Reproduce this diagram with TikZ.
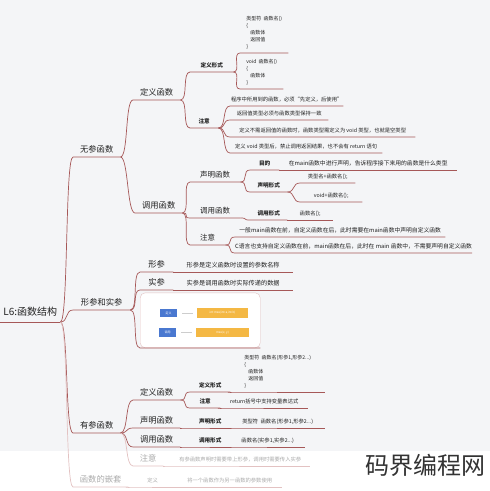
\documentclass[tikz,border=0pt]{standalone}
\usepackage{fontspec}
\newfontfamily\cjk{Noto Sans CJK SC}
\definecolor{bgc}{HTML}{F4F5F7}
\definecolor{lnc}{HTML}{A65858}
\definecolor{txc}{HTML}{222222}
\definecolor{fdc}{HTML}{ABABAB}
\definecolor{fdl}{HTML}{E3C2C2}
\definecolor{bluebox}{HTML}{4A78D0}
\definecolor{orangebox}{HTML}{F4B844}
\definecolor{wmc}{HTML}{333333}
\tikzset{
  item/.style={anchor=south west, inner xsep=0pt, inner ysep=4.5pt, text depth=0pt, text=txc},
  rootitem/.style={item, inner ysep=6.5pt, font=\cjk\fontsize{10}{12}\selectfont},
  big/.style={item, font=\cjk\fontsize{8.3}{10}\selectfont},
  mid/.style={item, font=\cjk\fontsize{7.5}{9}\selectfont},
  tag/.style={item, font=\cjk\bfseries\fontsize{5.6}{7}\selectfont},
  note/.style={item, font=\cjk\fontsize{5.3}{7}\selectfont},
  notel/.style={item, font=\cjk\fontsize{5.8}{7}\selectfont},
  desc/.style={item, font=\cjk\fontsize{6.2}{8}\selectfont},
  code/.style={item, inner ysep=4pt, align=left, font=\cjk\fontsize{5}{7}\selectfont},
  faded/.style={text=fdc},
  pill/.style={inner sep=0pt, text=white, font=\cjk\fontsize{3}{3}\selectfont},
  br/.style={out=0, in=180, distance=8pt},
}
\begin{document}
\begin{tikzpicture}[x=1pt, y=-1pt]
  \useasboundingbox (0,0) rectangle (490,491);
  \fill[bgc] (0,0) rectangle (490,451);
  \fill[white] (0,451) rectangle (490,491);

  % root and first level
  \node[rootitem, minimum width=60pt] (root) at (0,322) {L6:函数结构};
  \node[big, minimum width=47pt] (wc) at (73,157) {无参函数};
  \node[big, minimum width=57pt] (xs) at (73,310) {形参和实参};
  \node[big, minimum width=47pt] (yc) at (73,433) {有参函数};
  \node[big, faded, minimum width=55pt] (qt) at (73,487) {函数的嵌套};

  % 无参函数
  \node[big, minimum width=47pt] (wcdy) at (133,100) {定义函数};
  \node[big, minimum width=47pt] (wcdd) at (135,213) {调用函数};
  \node[tag, minimum width=43pt] (wcdyxs) at (190,72) {定义形式};
  \node[tag, minimum width=28pt] (wcdyzy) at (190,128) {注意};
  \node[code, minimum width=48pt] (code1) at (240,53)
    {类型符 \ 函数名()\\\{\\\hspace*{4pt}函数体\\\hspace*{4pt}返回值\\\}};
  \node[code, minimum width=43pt] (code2) at (240,89)
    {void \ 函数名()\\\{\\\hspace*{4pt}函数体\\\}};
  \node[note, minimum width=113pt] (n1) at (230,106) {程序中所用到的函数，必须“先定义，后使用”};
  \node[note, minimum width=98pt] (n2) at (230,120) {返回值类型必须与函数类型保持一致};
  \node[note, minimum width=185pt] (n3) at (230,137) {定义不需返回值的函数时，函数类型需定义为 void 类型，也就是空类型};
  \node[note, minimum width=152pt] (n4) at (230,153) {定义 void 类型后，禁止调用返回结果，也不会有 return 语句};

  \node[mid, minimum width=50pt] (wcsm) at (190,182) {声明函数};
  \node[mid, minimum width=50pt] (wcdd2) at (190,218) {调用函数};
  \node[mid, minimum width=35pt] (wczy) at (190,245) {注意};
  \node[tag, minimum width=29pt] (md) at (250,170) {目的};
  \node[notel, minimum width=178pt] (mdtx) at (279,170) {在main函数中进行声明，告诉程序接下来用的函数是什么类型};
  \node[tag, minimum width=37pt] (smxs) at (250,192) {声明形式};
  \node[note, minimum width=55pt] (smf1) at (300,183) {类型名+函数名();};
  \node[note, minimum width=62pt] (smf2) at (300,202) {void+函数名();};
  \node[tag, minimum width=37pt] (ddxs) at (250,220) {调用形式};
  \node[note, minimum width=46pt] (ddf) at (287,220) {函数名();};
  \node[notel, minimum width=210pt] (zyn1) at (235,237) {一般main函数在前，自定义函数在后，此时需要在main函数中声明自定义函数};
  \node[notel, minimum width=235pt] (zyn2) at (235,253) {C语言也支持自定义函数在前，main函数在后，此时在 main 函数中，不需要声明自定义函数};

  % 形参和实参
  \node[big, minimum width=33pt] (xsxc) at (140,272) {形参};
  \node[desc, minimum width=120pt] (xsxct) at (173,272) {形参是定义函数时设置的参数名称};
  \node[big, minimum width=33pt] (xssc) at (140,290) {实参};
  \node[desc, minimum width=120pt] (xssct) at (173,290) {实参是调用函数时实际传递的数据};
  \node[item, inner sep=0pt, minimum width=120pt, minimum height=55pt, rounded corners=5pt,
        draw=fdl, fill=white] (img) at (140,348) {};
  \node[pill, fill=bluebox, minimum width=17pt, minimum height=8pt] (pb1) at (168.5,313) {定义};
  \node[pill, fill=orangebox, minimum width=51pt, minimum height=10pt] (po1) at (222.5,313) {int max(int a,int b)};
  \node[pill, fill=bluebox, minimum width=17pt, minimum height=9pt] (pb2) at (167.5,332.5) {调用};
  \node[pill, fill=orangebox, minimum width=53pt, minimum height=9pt] (po2) at (222.5,332.5) {max(x, y)};
  \draw[fdc!60, shorten <=5pt, shorten >=4pt] (pb1) -- (po1);
  \draw[fdc!60, shorten <=5pt, shorten >=4pt] (pb2) -- (po2);

  % 有参函数
  \node[big, minimum width=47pt] (ycdy) at (133,400) {定义函数};
  \node[big, minimum width=47pt] (ycsm) at (133,428) {声明函数};
  \node[big, minimum width=47pt] (ycdd) at (133,447) {调用函数};
  \node[big, faded, minimum width=30pt] (yczy) at (133,466) {注意};
  \node[tag, minimum width=40pt] (ycdyxs) at (190,392) {定义形式};
  \node[code, minimum width=95pt] (code3) at (230,392)
    {类型符 \ 函数名(形参1,形参2...)\\\{\\\hspace*{4pt}函数体\\\hspace*{4pt}返回值\\\}};
  \node[tag, minimum width=30pt] (ycdyzy) at (190,408) {注意};
  \node[note, minimum width=88pt] (ycdyzyt) at (220,408) {return括号中支持变量表达式};
  \node[tag, minimum width=40pt] (ycsmxs) at (190,428) {声明形式};
  \node[note, minimum width=95pt] (ycsmf) at (230,428) {类型符 \ 函数名(形参1,形参2...)};
  \node[tag, minimum width=40pt] (ycddxs) at (190,447) {调用形式};
  \node[note, minimum width=75pt] (ycddf) at (230,447) {函数名(实参1,实参2...)};
  \node[note, faded, minimum width=140pt] (yczyt) at (170,466) {有参函数声明时需要带上形参，调用时需要传入实参};

  % 函数的嵌套
  \node[note, faded, minimum width=49pt] (qtdy) at (128,487) {定义};
  \node[note, faded, minimum width=105pt] (qtdyt) at (177,487) {将一个函数作为另一函数的参数使用};

  \node[font=\cjk\fontsize{24}{26}\selectfont, text=wmc] (wm) at (425,465) {码界编程网};

  \begin{scope}[draw=lnc, line width=0.7pt]
    \draw (root.south west) -- (root.south east);
    \draw (root.south east) to[br] (wc.south west) -- (wc.south east);
    \draw (root.south east) to[br] (xs.south west) -- (xs.south east);
    \draw (root.south east) to[br] (yc.south west) -- (yc.south east);
    \draw (wc.south east) to[br] (wcdy.south west) -- (wcdy.south east);
    \draw (wc.south east) to[br] (wcdd.south west) -- (wcdd.south east);
    \draw (wcdy.south east) to[br] (wcdyxs.south west) -- (wcdyxs.south east);
    \draw (wcdy.south east) to[br] (wcdyzy.south west) -- (wcdyzy.south east);
    \draw (wcdyxs.south east) to[br] (code1.south west) -- (code1.south east);
    \draw (wcdyxs.south east) to[br] (code2.south west) -- (code2.south east);
    \draw (wcdyzy.south east) to[br] (n1.south west) -- (n1.south east);
    \draw (wcdyzy.south east) to[br] (n2.south west) -- (n2.south east);
    \draw (wcdyzy.south east) to[br] (n3.south west) -- (n3.south east);
    \draw (wcdyzy.south east) to[br] (n4.south west) -- (n4.south east);
    \draw (wcdd.south east) to[br] (wcsm.south west) -- (wcsm.south east);
    \draw (wcdd.south east) to[br] (wcdd2.south west) -- (wcdd2.south east);
    \draw (wcdd.south east) to[br] (wczy.south west) -- (wczy.south east);
    \draw (wcsm.south east) to[br] (md.south west) -- (md.south east);
    \draw (wcsm.south east) to[br] (smxs.south west) -- (smxs.south east);
    \draw (md.south east) -- (mdtx.south east);
    \draw (smxs.south east) to[br] (smf1.south west) -- (smf1.south east);
    \draw (smxs.south east) to[br] (smf2.south west) -- (smf2.south east);
    \draw (wcdd2.south east) to[br] (ddxs.south west) -- (ddxs.south east);
    \draw (ddxs.south east) -- (ddf.south east);
    \draw (wczy.south east) to[br] (zyn1.south west) -- (zyn1.south east);
    \draw (wczy.south east) to[br] (zyn2.south west) -- (zyn2.south east);
    \draw (xs.south east) to[br] (xsxc.south west) -- (xsxc.south east);
    \draw (xs.south east) to[br] (xssc.south west) -- (xssc.south east);
    \draw (xs.south east) to[br] (img.south west) -- (img.south east);
    \draw (xsxc.south east) -- (xsxct.south east);
    \draw (xssc.south east) -- (xssct.south east);
    \draw (yc.south east) to[br] (ycdy.south west) -- (ycdy.south east);
    \draw (yc.south east) to[br] (ycsm.south west) -- (ycsm.south east);
    \draw (yc.south east) to[br] (ycdd.south west) -- (ycdd.south east);
    \draw (ycdy.south east) to[br] (ycdyxs.south west) -- (ycdyxs.south east);
    \draw (ycdy.south east) to[br] (ycdyzy.south west) -- (ycdyzy.south east);
    \draw (ycdyxs.south east) to[br] (code3.south west) -- (code3.south east);
    \draw (ycdyzy.south east) to[br] (ycdyzyt.south west) -- (ycdyzyt.south east);
    \draw (ycsm.south east) to[br] (ycsmxs.south west) -- (ycsmxs.south east);
    \draw (ycsmxs.south east) to[br] (ycsmf.south west) -- (ycsmf.south east);
    \draw (ycdd.south east) to[br] (ycddxs.south west) -- (ycddxs.south east);
    \draw (ycddxs.south east) to[br] (ycddf.south west) -- (ycddf.south east);
  \end{scope}
  \begin{scope}[draw=fdl, line width=0.7pt]
    \draw (root.south east) to[br] (qt.south west) -- (qt.south east);
    \draw (yc.south east) to[br] (yczy.south west) -- (yczy.south east);
    \draw (yczy.south east) to[br] (yczyt.south west) -- (yczyt.south east);
    \draw (qt.south east) to[br] (qtdy.south west) -- (qtdy.south east);
    \draw (qtdy.south east) -- (qtdyt.south east);
  \end{scope}
\end{tikzpicture}
\end{document}
